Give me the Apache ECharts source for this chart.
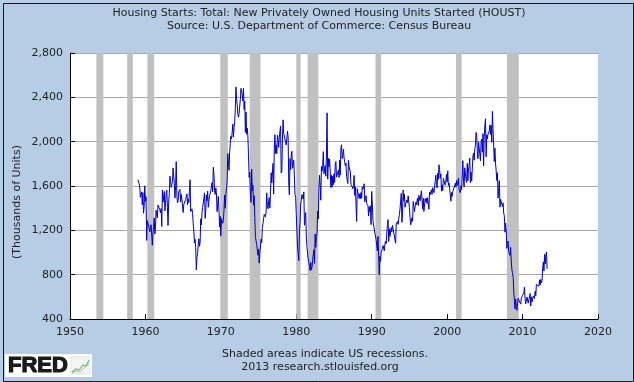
<!DOCTYPE html>
<html>
<head>
<meta charset="utf-8">
<script src="https://cdn.jsdelivr.net/npm/echarts@6/dist/echarts.min.js"></script>
<style>
html,body{margin:0;padding:0;background:#b6cde5;}
#chart{width:634px;height:382px;}
</style>
</head>
<body>
<div id="chart"></div>
<script>
// Monthly housing starts, thousands of units (SAAR), Jan 1959 onward
var startYear = 1959;
var y1959 = [1657,1667,1620,1590,1498,1503,1547,1430,1540,1355,1416,1601];
var y1960 = [1460,1503,1109,1289,1266,1260,1255,1187,1224,1250,1159,1065];
var y1961 = [1183,1226,1312,1166,1228,1382,1335,1312,1429,1415,1419,1385];
var y1962 = [1359,1397,1234,1564,1455,1443,1551,1375,1444,1532,1563,1405];
var y1963 = [1244,1456,1534,1689,1641,1588,1614,1639,1763,1779,1622,1491];
var y1964 = [1603,1820,1517,1448,1467,1550,1562,1569,1455,1524,1486,1484];
var y1965 = [1361,1433,1423,1438,1478,1488,1529,1432,1482,1452,1460,1656];
var y1966 = [1370,1378,1394,1352,1265,1194,1086,1119,1046,843,961,990];
var y1967 = [1067,1123,1056,1091,1304,1248,1364,1407,1421,1491,1538,1308];
var y1968 = [1380,1520,1466,1554,1408,1405,1512,1495,1556,1569,1630,1548];
var y1969 = [1769,1705,1561,1524,1583,1528,1368,1358,1507,1381,1229,1327];
var y1970 = [1150,1305,1319,1264,1290,1385,1517,1399,1534,1580,1647,1893];
var y1971 = [1828,1741,1910,1986,2049,2026,2083,2158,2041,2128,2182,2295];
var y1972 = [2494,2390,2334,2249,2221,2254,2252,2382,2481,2485,2421,2366];
var y1973 = [2481,2289,2365,2084,2266,2067,2123,2051,1874,1677,1724,1526];
var y1974 = [1451,1752,1555,1607,1426,1513,1316,1142,1150,1070,1026,975];
var y1975 = [1032,904,993,1005,1121,1087,1226,1260,1264,1344,1360,1321];
var y1976 = [1367,1538,1421,1395,1459,1495,1401,1550,1720,1629,1641,1804];
var y1977 = [1527,1943,2063,1892,1971,1893,2058,2020,1949,2042,2042,2142];
var y1978 = [1718,1738,2032,2197,2075,2070,2092,1996,1970,1981,2094,2044];
var y1979 = [1630,1520,1847,1748,1876,1913,1760,1778,1832,1681,1524,1498];
var y1980 = [1341,1350,1047,1051,927,1196,1269,1436,1471,1523,1510,1482];
var y1981 = [1547,1246,1306,1360,1140,1045,1041,940,911,873,837,910];
var y1982 = [843,866,931,917,1025,902,1166,1046,1144,1173,1372,1303];
var y1983 = [1586,1699,1606,1472,1776,1733,1785,1910,1710,1715,1785,1688];
var y1984 = [1897,2260,1663,1851,1774,1843,1732,1586,1698,1590,1689,1612];
var y1985 = [1711,1632,1800,1821,1680,1676,1684,1743,1676,1834,1698,1942];
var y1986 = [1972,1848,1876,1933,1854,1847,1782,1807,1687,1681,1623,1833];
var y1987 = [1774,1784,1726,1614,1628,1594,1575,1605,1695,1515,1592,1437];
var y1988 = [1280,1576,1542,1537,1487,1530,1484,1542,1490,1591,1571,1554];
var y1989 = [1620,1457,1486,1513,1441,1425,1422,1329,1413,1367,1421,1251];
var y1990 = [1551,1437,1289,1248,1212,1177,1171,1115,1110,1014,1145,969];
var y1991 = [798,965,921,1001,996,1036,1063,1049,1015,1079,1103,1079];
var y1992 = [1176,1250,1297,1099,1214,1145,1139,1226,1186,1244,1214,1227];
var y1993 = [1210,1210,1083,1258,1260,1280,1254,1300,1343,1392,1376,1533];
var y1994 = [1272,1337,1564,1465,1526,1409,1439,1450,1474,1450,1511,1455];
var y1995 = [1407,1316,1249,1267,1314,1281,1461,1416,1369,1369,1452,1431];
var y1996 = [1467,1491,1424,1516,1504,1467,1472,1557,1475,1392,1489,1370];
var y1997 = [1355,1486,1457,1492,1442,1494,1437,1390,1546,1520,1510,1566];
var y1998 = [1525,1584,1567,1540,1536,1641,1698,1614,1582,1715,1660,1792];
var y1999 = [1748,1670,1710,1553,1611,1559,1669,1648,1635,1608,1648,1708];
var y2000 = [1636,1737,1604,1626,1575,1559,1463,1541,1507,1549,1551,1532];
var y2001 = [1600,1625,1590,1649,1605,1636,1670,1567,1562,1540,1602,1568];
var y2002 = [1698,1829,1642,1592,1764,1717,1655,1633,1804,1648,1753,1788];
var y2003 = [1853,1629,1726,1643,1751,1867,1897,1833,1939,1967,2083,2057];
var y2004 = [1911,1846,1998,2003,1981,1828,2002,2024,1905,2072,1782,2042];
var y2005 = [2144,2207,1864,2061,2025,2068,2054,2095,2151,2065,2147,1994];
var y2006 = [2273,2119,1969,1821,1942,1802,1737,1650,1720,1491,1570,1649];
var y2007 = [1409,1480,1495,1490,1415,1448,1354,1330,1183,1264,1197,1037];
var y2008 = [1084,1103,1005,1013,973,1046,923,844,820,777,652,560];
var y2009 = [490,582,505,478,540,585,594,586,585,534,588,581];
var y2010 = [614,604,636,687,583,536,546,599,592,543,545,539];
var y2011 = [630,517,600,554,561,608,623,585,650,610,711,694];
var y2012 = [723,704,695,753,708,757,728,749,854,915,833,983];
var y2013 = [896,968,1005,852];

// Recession periods (decimal years: start, end)
var recessions = [
  [1953.5, 1954.42], [1957.58, 1958.33], [1960.25, 1961.17],
  [1969.92, 1970.92], [1973.83, 1975.25], [1980.0, 1980.58],
  [1981.5, 1982.92], [1990.5, 1991.25], [2001.17, 2001.92],
  [2007.92, 2009.5]
];

var yTicks = [400, 800, 1200, 1600, 2000, 2400, 2800];
var xTicks = [1950, 1960, 1970, 1980, 1990, 2000, 2010, 2020];

var titleLine1 = 'Housing Starts: Total: New Privately Owned Housing Units Started (HOUST)';
var titleLine2 = 'Source: U.S. Department of Commerce: Census Bureau';
var yName = '(Thousands of Units)';
var note1 = 'Shaded areas indicate US recessions.';
var note2 = '2013 research.stlouisfed.org';

var years = [y1959,y1960,y1961,y1962,y1963,y1964,y1965,y1966,y1967,y1968,y1969,
  y1970,y1971,y1972,y1973,y1974,y1975,y1976,y1977,y1978,y1979,
  y1980,y1981,y1982,y1983,y1984,y1985,y1986,y1987,y1988,y1989,
  y1990,y1991,y1992,y1993,y1994,y1995,y1996,y1997,y1998,y1999,
  y2000,y2001,y2002,y2003,y2004,y2005,y2006,y2007,y2008,y2009,
  y2010,y2011,y2012,y2013];

var seriesData = [];
years.forEach(function (arr, yi) {
  arr.forEach(function (v, m) {
    seriesData.push([startYear + yi + m / 12, v]);
  });
});

var FONT = 'DejaVu Sans';
var chart = echarts.init(document.getElementById('chart'), null, {renderer: 'canvas'});
chart.setOption({
  backgroundColor: '#b6cde5',
  animation: false,
  textStyle: {fontFamily: FONT},
  grid: {left: 70, right: 36, top: 53, bottom: 63, show: true, backgroundColor: '#ffffff', borderWidth: 0},
  xAxis: {
    type: 'value', min: xTicks[0], max: xTicks[xTicks.length - 1], interval: 10,
    axisLine: {show: true, lineStyle: {color: '#000', width: 1}},
    axisTick: {show: true, inside: true, length: 5, lineStyle: {color: '#000'}},
    axisLabel: {color: '#222', fontSize: 11, fontFamily: FONT, margin: 8,
      formatter: function (v) { return String(Math.round(v)); }},
    splitLine: {show: false}
  },
  yAxis: {
    type: 'value', min: yTicks[0], max: yTicks[yTicks.length - 1], interval: 400,
    axisLine: {show: true, lineStyle: {color: '#000', width: 1}},
    axisTick: {show: true, inside: true, length: 5, lineStyle: {color: '#000'}},
    axisLabel: {color: '#222', fontSize: 11, fontFamily: FONT, margin: 7,
      formatter: function (v) { return v.toLocaleString('en-US'); }},
    splitLine: {show: true, lineStyle: {color: '#a8a8a8', width: 1}}
  },
  series: [{
    type: 'line',
    data: seriesData,
    showSymbol: false,
    symbol: 'none',
    lineStyle: {color: '#0000cc', width: 1},
    z: 5,
    markArea: {
      silent: true,
      itemStyle: {color: '#c0c0c0', opacity: 1},
      label: {show: false},
      data: recessions.map(function (r) { return [{xAxis: r[0]}, {xAxis: r[1]}]; })
    }
  }],
  graphic: [
    {type: 'rect', left: 1, top: 1, shape: {width: 630, height: 378}, style: {fill: 'none', stroke: '#1a1a1a', lineWidth: 1}, z: 100},
    {type: 'text', x: 319, y: 13, style: {text: titleLine1, font: '11px "DejaVu Sans"', fill: '#222', align: 'center', verticalAlign: 'middle'}},
    {type: 'text', x: 319, y: 26, style: {text: titleLine2, font: '11px "DejaVu Sans"', fill: '#222', align: 'center', verticalAlign: 'middle'}},
    {type: 'text', x: 17, y: 202, rotation: Math.PI / 2, style: {text: yName, font: '11px "DejaVu Sans"', fill: '#222', align: 'center', verticalAlign: 'middle'}},
    {type: 'text', x: 325, y: 354, style: {text: note1, font: '11px "DejaVu Sans"', fill: '#222', align: 'center', verticalAlign: 'middle'}},
    {type: 'text', x: 320, y: 367, style: {text: note2, font: '11px "DejaVu Sans"', fill: '#222', align: 'center', verticalAlign: 'middle'}},
    {type: 'rect', shape: {x: 5, y: 354, width: 87, height: 23}, style: {fill: '#ffffff'}},
    {type: 'text', x: 8, y: 366, style: {text: 'FRED', font: 'bold 22px "Liberation Sans"', fill: '#1a1a1a', stroke: '#1a1a1a', lineWidth: 1.2, align: 'left', verticalAlign: 'middle'}},
    {type: 'rect', shape: {x: 71, y: 357, width: 19, height: 17}, style: {fill: '#f4f6f2', stroke: '#c8d0c4', lineWidth: 0.5}},
    {type: 'polyline', shape: {points: [[72, 372], [76, 369], [79, 370], [83, 365], [86, 366], [89, 360]]}, style: {stroke: '#7fb07a', lineWidth: 1.2, fill: 'none'}},
    {type: 'polyline', shape: {points: [[72, 373], [76, 371], [80, 372], [84, 368], [89, 364]]}, style: {stroke: '#a8b4c8', lineWidth: 1, fill: 'none'}}
  ]
});
</script>
</body>
</html>
